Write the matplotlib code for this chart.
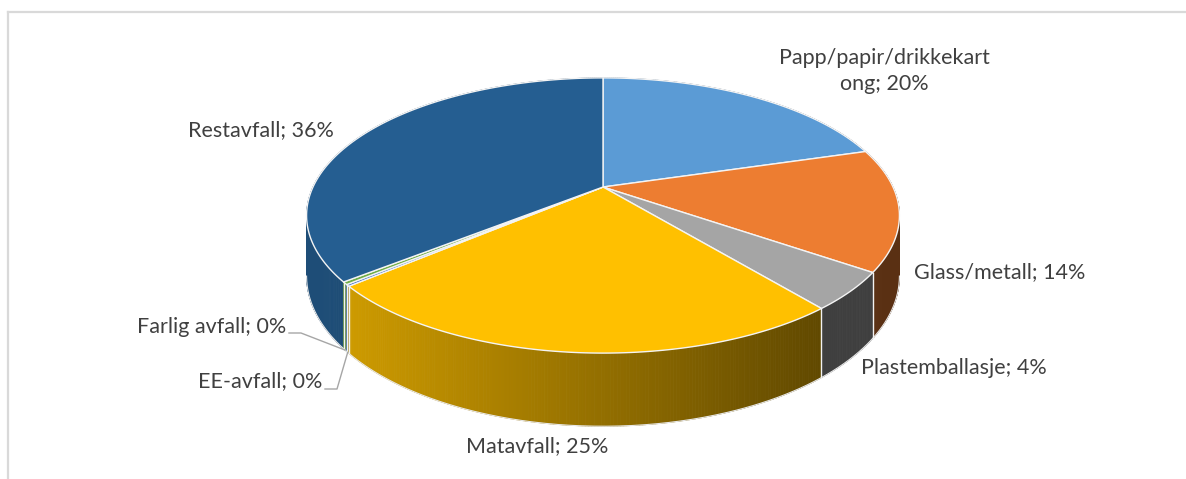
import numpy as np
import matplotlib
matplotlib.use("Agg")
import matplotlib.pyplot as plt
from matplotlib.colors import to_rgb

# Waste fractions (share of total), drawn clockwise from 12 o'clock
categories = ["Papp/papir/drikkekart\nong", "Glass/metall", "Plastemballasje",
              "Matavfall", "EE-avfall", "Farlig avfall", "Restavfall"]
shares = [20.4, 14.3, 4.4, 24.6, 0.2, 0.3, 35.8]
colors = ["#5B9BD5", "#ED7D31", "#A5A5A5", "#FFC000", "#4472C4", "#70AD47", "#255E91"]

# label anchor positions (pixels) and alignment
label_pos = [(884, 71, "center"), (914, 272, "left"), (861, 368, "left"),
             (537, 446, "center"), (322, 381, "right"), (286, 327, "right"),
             (334, 130, "right")]

W, H = 1186, 479
fig = plt.figure(figsize=(W / 100, H / 100), dpi=100)
ax = fig.add_axes([0, 0, 1, 1])
ax.set_xlim(0, W)
ax.set_ylim(H, 0)
ax.axis("off")

# perspective view of a tilted disc
CX, CY, A, B, C, D = 603.0, 187.0, 290.0, -93.0, 0.207, 58.0


def proj(theta, drop=0.0):
    s, c = np.sin(theta), np.cos(theta)
    w = 1 + C * c
    return CX + A * s / w, (CY + B * c + drop) / w


def shade(x):
    f = 0.80 - (x - 355) / (820 - 355) * 0.42
    return float(np.clip(f, 0.38, 0.82))


total = sum(shares)
bounds = np.concatenate([[0], np.cumsum(shares)]) / total * 2 * np.pi

# side wall, built from thin strips painted back to front
strips = []
for i, col in enumerate(colors):
    t0, t1 = bounds[i], bounds[i + 1]
    n = max(2, int((t1 - t0) / np.radians(0.5)))
    ts = np.linspace(t0, t1, n + 1)
    for a, b in zip(ts[:-1], ts[1:]):
        strips.append((np.cos((a + b) / 2), a, b, col))
strips.sort(key=lambda s: -s[0])
for _, a, b, col in strips:
    xa, ya = proj(a)
    xb, yb = proj(b)
    xa2, ya2 = proj(a, D)
    xb2, yb2 = proj(b, D)
    f = shade((xa + xb) / 2)
    rgb = tuple(np.array(to_rgb(col)) * f)
    ax.fill([xa, xb, xb2, xa2], [ya, yb, yb2, ya2], color=rgb, lw=0.6,
            ec=rgb, zorder=1)

# bottom rim highlight on the visible part of the wall
tt = np.linspace(np.arccos(-C), 2 * np.pi - np.arccos(-C), 400)
bx, by = proj(tt, D)
ax.plot(bx, by, color="#E8E8E8", lw=0.8, zorder=2)

# seams between slices on the wall
for t in bounds[:-1]:
    if np.cos(t) < -C:
        x0, y0 = proj(t)
        x1, y1 = proj(t, D)
        ax.plot([x0, x1], [y0, y1], color="#F2F2F2", lw=1.0, zorder=2)

# top faces
for i, col in enumerate(colors):
    t0, t1 = bounds[i], bounds[i + 1]
    n = max(2, int((t1 - t0) / np.radians(0.3)))
    ts = np.linspace(t0, t1, n + 1)
    px, py = proj(ts)
    ax.fill(np.concatenate([[CX], px]), np.concatenate([[CY], py]),
            facecolor=col, edgecolor="#F4F4F4", lw=1.0, joinstyle="round",
            zorder=3)

# labels
font = ["Lato", "DejaVu Sans"]
for i, (name, val) in enumerate(zip(categories, shares)):
    x, y, ha = label_pos[i]
    ax.text(x, y, f"{name}; {round(val / total * 100):.0f}%", ha=ha, va="center",
            fontsize=15.5, color="#404040", family=font, linespacing=1.4,
            zorder=5)

# leader lines for the two tiny slices
for i, (lx, ly) in ((4, (325, 389)), (5, (289, 333))):
    mid = (bounds[i] + bounds[i + 1]) / 2
    px, py = proj(mid, D)
    knee_x = lx + 12
    ax.plot([lx, knee_x, px], [ly, ly, py], color="#A6A6A6", lw=1.0, zorder=4)

# chart area frame
ax.plot([8, W], [12, 12], color="#D9D9D9", lw=1.6, zorder=0)
ax.plot([8, 8], [12, H], color="#D9D9D9", lw=1.6, zorder=0)

fig.savefig("out.png", dpi=100, facecolor="white")
